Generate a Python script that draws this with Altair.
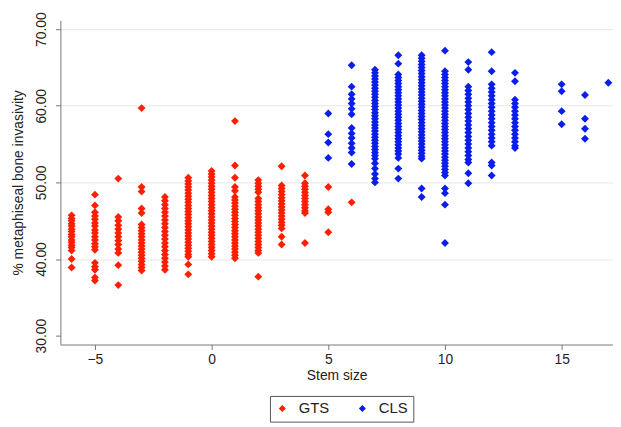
import altair as alt
import pandas as pd

# ---- data: one list of y values per stem size ----
gts_cols = {
    -6: [45.7, 45.3, 45.0, 44.6, 44.3, 43.9, 43.6, 43.2, 42.9, 42.5, 42.2, 41.8, 41.5, 41.1, 40.0, 38.9],
    -5: [48.4, 47.0, 46.1, 45.6, 45.2, 44.7, 44.3, 43.8, 43.4, 42.9, 42.5, 42.0, 41.6, 41.2, 39.5, 39.0, 38.6, 37.6, 37.2],
    -4: [50.5, 45.5, 45.0, 44.4, 43.9, 43.4, 42.9, 42.4, 41.9, 41.3, 40.8, 39.2, 36.6],
    -3: [59.7, 49.4, 48.8, 46.6, 46.0, 44.5, 44.1, 43.7, 43.3, 42.9, 42.5, 42.1, 41.7, 41.3, 40.9, 40.5, 40.1, 39.7, 39.3, 38.9, 38.5],
    -2: [48.1, 47.6, 47.1, 46.6, 46.1, 45.6, 45.1, 44.6, 44.1, 43.6, 43.1, 42.6, 42.1, 41.6, 41.1, 40.6, 40.1, 39.6, 39.1, 38.6],
    -1: [50.6, 50.2, 49.8, 49.4, 49.0, 48.6, 48.2, 47.8, 47.4, 47.0, 46.6, 46.2, 45.8, 45.4, 45.0, 44.6, 44.2, 43.8, 43.4, 43.0, 42.6, 42.2, 41.8, 41.4, 41.0, 40.6, 40.3, 39.3, 38.0],
    0: [51.5, 51.1, 50.7, 50.3, 49.9, 49.5, 49.1, 48.7, 48.3, 47.9, 47.5, 47.1, 46.7, 46.3, 45.9, 45.5, 45.1, 44.7, 44.3, 43.9, 43.5, 43.1, 42.7, 42.3, 41.9, 41.5, 41.1, 40.7, 40.3],
    1: [58.0, 52.2, 50.6, 49.4, 48.9, 48.1, 47.7, 47.3, 46.9, 46.5, 46.1, 45.7, 45.3, 44.9, 44.5, 44.1, 43.7, 43.3, 42.9, 42.5, 42.1, 41.7, 41.3, 40.9, 40.5, 40.1],
    2: [50.3, 49.9, 49.5, 49.1, 48.7, 47.9, 47.5, 47.1, 46.7, 46.3, 45.9, 45.5, 45.1, 44.7, 44.3, 43.9, 43.5, 43.1, 42.7, 42.3, 41.9, 41.5, 41.1, 40.8, 37.7],
    3: [52.1, 49.6, 49.2, 48.8, 48.4, 48.0, 47.6, 47.2, 46.8, 46.4, 46.0, 45.6, 45.2, 44.8, 44.4, 44.0, 42.9, 41.9],
    4: [50.9, 49.9, 49.5, 49.1, 48.7, 48.3, 47.9, 47.5, 47.1, 46.7, 46.3, 46.0, 42.1],
    5: [49.4, 46.5, 46.1, 43.5],
    6: [47.4],
}
cls_cols = {
    5: [59.0, 56.3, 55.2, 53.2],
    6: [65.3, 62.5, 61.5, 60.9, 60.3, 59.6, 58.9, 57.1, 56.4, 55.8, 55.1, 54.5, 53.9, 52.4],
    7: [64.7, 64.3, 63.9, 63.5, 63.1, 62.7, 62.3, 61.9, 61.5, 61.1, 60.7, 60.3, 59.9, 59.5, 59.1, 58.7, 58.3, 57.9, 57.5, 57.1, 56.7, 56.3, 55.9, 55.5, 55.1, 54.7, 54.3, 53.9, 53.5, 53.1, 52.5, 51.8, 51.1, 50.5, 50.0],
    8: [66.6, 65.5, 64.1, 63.7, 63.3, 62.9, 62.5, 62.1, 61.7, 61.3, 60.9, 60.5, 60.1, 59.7, 59.3, 58.9, 58.5, 58.1, 57.7, 57.3, 56.9, 56.5, 56.1, 55.7, 55.3, 54.9, 54.5, 54.1, 53.7, 53.2, 51.8, 50.5],
    9: [66.6, 66.2, 65.8, 65.4, 65.0, 64.6, 64.2, 63.8, 63.4, 63.0, 62.6, 62.2, 61.8, 61.4, 61.0, 60.6, 60.2, 59.8, 59.4, 59.0, 58.6, 58.2, 57.8, 57.4, 57.0, 56.6, 56.2, 55.8, 55.4, 55.0, 54.6, 54.2, 53.8, 53.4, 53.1, 49.2, 48.1],
    10: [67.2, 64.5, 64.1, 63.7, 63.3, 62.9, 62.5, 62.1, 61.7, 61.3, 60.9, 60.5, 60.1, 59.7, 59.3, 58.9, 58.5, 58.1, 57.7, 57.3, 56.9, 56.5, 56.1, 55.7, 55.3, 54.9, 54.5, 54.1, 53.7, 53.3, 52.9, 52.5, 52.1, 51.7, 51.3, 50.9, 49.2, 48.6, 47.1, 42.1],
    11: [65.7, 64.7, 62.5, 62.0, 61.5, 61.0, 60.5, 60.0, 59.5, 59.0, 58.5, 58.0, 57.5, 57.0, 56.5, 56.0, 55.5, 55.0, 54.5, 54.0, 53.5, 53.0, 52.6, 51.2, 49.9],
    12: [67.0, 64.5, 62.8, 62.3, 61.8, 61.3, 60.8, 60.3, 59.8, 59.3, 58.8, 58.3, 57.8, 57.3, 56.8, 56.3, 55.8, 55.3, 54.8, 52.6, 52.2, 50.9],
    13: [64.3, 63.2, 60.8, 60.3, 59.8, 59.3, 58.8, 58.3, 57.8, 57.3, 56.8, 56.3, 55.8, 55.3, 54.8, 54.5],
    15: [62.8, 61.9, 59.3, 57.6],
    16: [61.4, 58.3, 57.0, 55.7],
    17: [63.0],
}
groups = ["GTS", "CLS"]
colors = ["#FF1E00", "#0A1EEB"]
x_ticks = [-5, 0, 5, 10, 15]
y_ticks = [30, 40, 50, 60, 70]

rows = []
for grp, cols in (("GTS", gts_cols), ("CLS", cls_cols)):
    for stem, vals in cols.items():
        for v in vals:
            rows.append({"stem": stem, "inv": v, "group": grp})
df = pd.DataFrame(rows)

FONT = "Liberation Sans"

chart = alt.Chart(df).mark_point(
    shape="diamond", filled=True, size=64, opacity=1
).encode(
    x=alt.X("stem:Q", title="Stem size",
            scale=alt.Scale(domain=[-6.48, 17.2], nice=False, zero=False),
            axis=alt.Axis(values=x_ticks, grid=False, tickSize=5, labelFontSize=14,
                          labelPadding=3, titleFontSize=14, titlePadding=2,
                          titleFontWeight="normal", domainColor="#777", tickColor="#777",
                          labelColor="#222", titleColor="#222")),
    y=alt.Y("inv:Q", title="% metaphiseal bone invasivity",
            scale=alt.Scale(domain=[28.84, 71.16], nice=False, zero=False),
            axis=alt.Axis(values=y_ticks, format=".2f", labelAngle=270, labelAlign="center",
                          labelBaseline="bottom", labelPadding=7, tickSize=5, labelFontSize=14,
                          titleFontSize=14, titlePadding=9, titleFontWeight="normal",
                          domainColor="#777", tickColor="#777", labelColor="#222", titleColor="#222",
                          gridColor="#e6e6e6",
                          gridOpacity=alt.condition("datum.value == 30", alt.value(0), alt.value(1)))),
    color=alt.Color("group:N", scale=alt.Scale(domain=groups, range=colors),
                    legend=alt.Legend(title=None, orient="none", legendX=212, legendY=380,
                                      direction="horizontal", symbolType="diamond", symbolSize=50,
                                      labelFontSize=15, labelColor="#222", strokeColor="#555",
                                      padding=5, columnPadding=26, symbolOffset=0, labelOffset=9)),
).properties(
    width=559, height=328,
    autosize=alt.AutoSizeParams(type="none"),
    padding={"left": 53, "top": 10, "right": 0, "bottom": 82},
).configure(font=FONT).configure_view(stroke=None)

chart.save("out.html", embed_options={"renderer": "svg", "actions": False})
